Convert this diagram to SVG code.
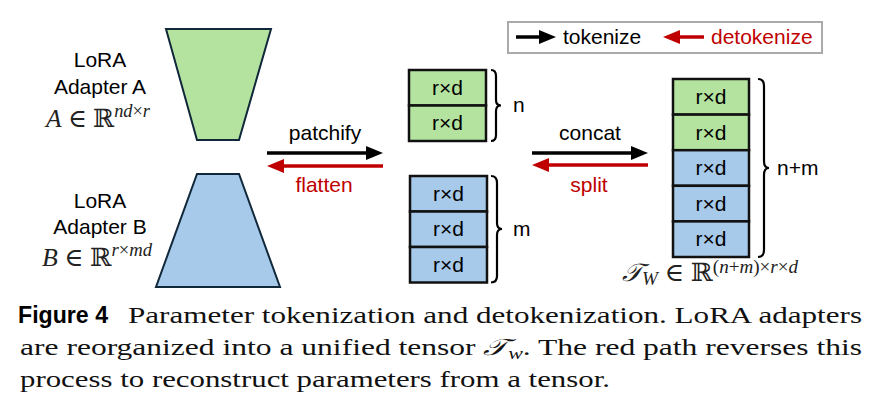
<svg xmlns="http://www.w3.org/2000/svg" width="878" height="411" viewBox="0 0 878 411">
<style>
.sans{font-family:"Liberation Sans",Arial,sans-serif;font-size:21px;fill:#000}
.red{fill:#c00000}
.math{font-family:"Liberation Serif","DejaVu Serif",serif;font-size:25px;fill:#222}
.it{font-style:italic}
.sup{font-size:18px}
.cap{font-family:"Liberation Serif","DejaVu Serif",serif;font-size:23px;fill:#111}
.green{fill:#b4e3a0;stroke:#111;stroke-width:2.5}
.blue{fill:#a7c9ea;stroke:#111;stroke-width:2.5}
.brace{fill:none;stroke:#000;stroke-width:2.2}
.ak{stroke:#000;stroke-width:3.5;fill:none}
.ar{stroke:#c00000;stroke-width:3.5;fill:none}
</style>
<defs>
<marker id="hk" markerUnits="userSpaceOnUse" markerWidth="17" markerHeight="14" refX="3" refY="7" orient="auto"><path d="M0,0 L17,7 L0,14 z" fill="#000"/></marker>
<marker id="hr" markerUnits="userSpaceOnUse" markerWidth="17" markerHeight="14" refX="3" refY="7" orient="auto"><path d="M0,0 L17,7 L0,14 z" fill="#c00000"/></marker>
</defs>
<rect width="878" height="411" fill="#fff"/>

<g id="adapterA">
<path d="M166,29 L271,29 L239,140 L197,140 Z" fill="#b4e3a0" stroke="#10283a" stroke-width="2"/>
<text class="sans" x="100" y="67" text-anchor="middle">LoRA</text>
<text class="sans" x="100" y="94" text-anchor="middle">Adapter A</text>
<text class="math" x="46" y="127" textLength="104" lengthAdjust="spacingAndGlyphs"><tspan class="it">A</tspan> ∈ ℝ<tspan class="sup it" dy="-10">nd</tspan><tspan class="sup">×</tspan><tspan class="sup it">r</tspan></text>
</g>

<g id="adapterB">
<path d="M197,174 L239,174 L280,287 L156,287 Z" fill="#a7c9ea" stroke="#10283a" stroke-width="2"/>
<text class="sans" x="100" y="208" text-anchor="middle">LoRA</text>
<text class="sans" x="100" y="234" text-anchor="middle">Adapter B</text>
<text class="math" x="42" y="266" textLength="110" lengthAdjust="spacingAndGlyphs"><tspan class="it">B</tspan> ∈ ℝ<tspan class="sup it" dy="-10">r</tspan><tspan class="sup">×</tspan><tspan class="sup it">md</tspan></text>
</g>

<g id="tokensA">
<rect class="green" x="409" y="70" width="77" height="35.5"/>
<rect class="green" x="409" y="105.5" width="77" height="35.5"/>
<text class="sans" x="447.5" y="95" text-anchor="middle">r×d</text>
<text class="sans" x="447.5" y="130" text-anchor="middle">r×d</text>
<path class="brace" d="M491,70 Q496,70 496,76 L496,100 Q496,105.5 501,105.5 Q496,105.5 496,111 L496,135 Q496,141 491,141"/>
<text class="sans" x="513" y="112">n</text>
</g>

<g id="tokensB">
<rect class="blue" x="410" y="176" width="77" height="35.5"/>
<rect class="blue" x="410" y="211.5" width="77" height="35.5"/>
<rect class="blue" x="410" y="247" width="77" height="35.5"/>
<text class="sans" x="448.5" y="201" text-anchor="middle">r×d</text>
<text class="sans" x="448.5" y="236" text-anchor="middle">r×d</text>
<text class="sans" x="448.5" y="272" text-anchor="middle">r×d</text>
<path class="brace" d="M491,176 Q497,176 497,183 L497,223 Q497,229 502,229 Q497,229 497,235 L497,276 Q497,282.5 491,282.5"/>
<text class="sans" x="513" y="236">m</text>
</g>

<g id="tensor">
<rect class="green" x="673" y="79" width="76" height="35.6"/>
<rect class="green" x="673" y="114.6" width="76" height="35.6"/>
<rect class="blue" x="673" y="150.2" width="76" height="35.6"/>
<rect class="blue" x="673" y="185.8" width="76" height="35.6"/>
<rect class="blue" x="673" y="221.4" width="76" height="35.6"/>
<text class="sans" x="711" y="104" text-anchor="middle">r×d</text>
<text class="sans" x="711" y="140" text-anchor="middle">r×d</text>
<text class="sans" x="711" y="175" text-anchor="middle">r×d</text>
<text class="sans" x="711" y="211" text-anchor="middle">r×d</text>
<text class="sans" x="711" y="246" text-anchor="middle">r×d</text>
<path class="brace" d="M758,79 Q764,79 764,86 L764,161 Q764,168 769,168 Q764,168 764,175 L764,250 Q764,257 758,257"/>
<text class="sans" x="777" y="175">n+m</text>
<text class="math" x="622" y="281" textLength="176" lengthAdjust="spacingAndGlyphs"><tspan class="it">𝒯</tspan><tspan class="sup it" dy="4">W</tspan><tspan dy="-4"> ∈ ℝ</tspan><tspan class="sup" dy="-8">(</tspan><tspan class="sup it">n</tspan><tspan class="sup">+</tspan><tspan class="sup it">m</tspan><tspan class="sup">)×</tspan><tspan class="sup it">r</tspan><tspan class="sup">×</tspan><tspan class="sup it">d</tspan></text>
</g>

<g id="legend">
<rect x="508" y="22" width="314" height="31" fill="#fff" stroke="#aaa" stroke-width="2"/>
<text class="sans" x="563" y="44">tokenize</text>
<text class="sans red" x="711" y="44">detokenize</text>
</g>

<g id="connectors">
<line class="ak" x1="516" y1="37" x2="542" y2="37" marker-end="url(#hk)"/>
<line class="ar" x1="704" y1="37" x2="677" y2="37" marker-end="url(#hr)"/>
<line class="ak" x1="267" y1="153" x2="369" y2="153" marker-end="url(#hk)"/>
<line class="ar" x1="383" y1="166" x2="281" y2="166" marker-end="url(#hr)"/>
<line class="ak" x1="532" y1="153" x2="634" y2="153" marker-end="url(#hk)"/>
<line class="ar" x1="648" y1="165" x2="546" y2="165" marker-end="url(#hr)"/>
<text class="sans" x="325" y="140" text-anchor="middle">patchify</text>
<text class="sans red" x="324" y="192" text-anchor="middle">flatten</text>
<text class="sans" x="590" y="140" text-anchor="middle">concat</text>
<text class="sans red" x="589" y="192" text-anchor="middle">split</text>
</g>

<g id="caption">
<text x="18" y="323" font-family="Liberation Sans,Arial,sans-serif" font-weight="bold" font-size="23" textLength="90" lengthAdjust="spacingAndGlyphs">Figure 4</text>
<text class="cap" x="128" y="323" textLength="734" lengthAdjust="spacingAndGlyphs">Parameter tokenization and detokenization. LoRA adapters</text>
<text class="cap" x="20" y="355" textLength="842" lengthAdjust="spacingAndGlyphs">are reorganized into a unified tensor <tspan class="it">𝒯</tspan><tspan class="it" font-size="16" dy="4">w</tspan><tspan dy="-4">. The red path reverses this</tspan></text>
<text class="cap" x="20" y="387" textLength="590" lengthAdjust="spacingAndGlyphs">process to reconstruct parameters from a tensor.</text>
</g>
</svg>
